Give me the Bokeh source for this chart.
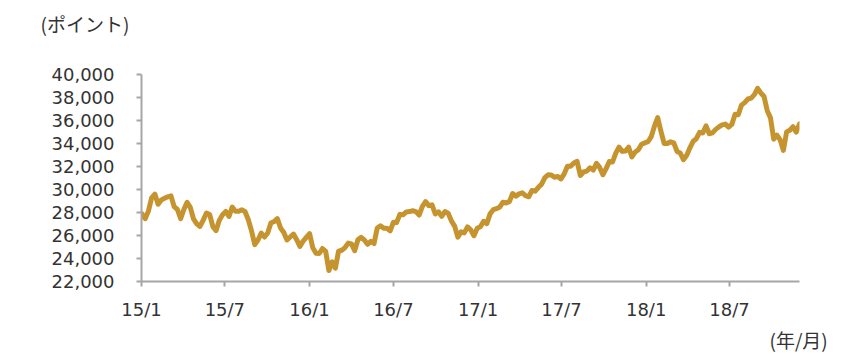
import pandas as pd
from bokeh.plotting import figure
from bokeh.models import Range1d, FixedTicker, NumeralTickFormatter, Title, ColumnDataSource
from bokeh.embed import file_html
from bokeh.resources import INLINE

# Weekly (Friday) index levels
v2015 = [27887, 27458, 28121, 29279, 29600, 28718, 29095, 29231, 29361, 29448,
         28503, 28261, 27458, 28260, 28879, 28442, 27437, 27011, 26789, 27324,
         27957, 27828, 26768, 26425, 27316, 27812, 28092, 27661, 28463, 28112,
         28115, 28236, 28067, 27366, 26392, 25202, 25610, 26219, 25864, 26221,
         27080, 27214, 27471, 26657, 26265, 25611, 25868, 26128, 25638, 25044,
         25519, 25838]
v2016 = [26160, 24934, 24455, 24435, 24871, 24617, 22950, 23709, 23154, 24646,
         24717, 24952, 25338, 25270, 24674, 25627, 25838, 25607, 25229, 25490,
         25302, 26653, 26843, 26636, 26626, 26398, 27145, 27126, 27837, 27803,
         28052, 28078, 28152, 28077, 27782, 28532, 28950, 28599, 28668, 27866,
         28061, 27674, 28077, 27942, 27274, 26819, 25860, 26316, 26231, 26747,
         26490, 25980, 26626]
v2017 = [26759, 27238, 27034, 27882, 28240, 28334, 28468, 28892, 28832, 28946,
         29649, 29421, 29621, 29707, 29461, 29365, 29918, 29859, 30188, 30465,
         31028, 31273, 31262, 31056, 31138, 30922, 31360, 32021, 32029, 32309,
         32450, 31214, 31525, 31596, 31892, 31688, 32273, 31922, 31284, 31815,
         32433, 32390, 33157, 33686, 33315, 33343, 33679, 32833, 33250, 33463,
         33940, 34057]
v2018 = [34154, 34592, 35512, 36250, 35067, 34005, 34010, 34142, 34047, 33307,
         33176, 32596, 32969, 33627, 34193, 34416, 34970, 34915, 35536, 34849,
         34925, 35227, 35444, 35622, 35690, 35423, 35658, 36541, 36496, 37337,
         37557, 37869, 37948, 38252, 38800, 38390, 38091, 36842, 36227, 34377,
         34734, 34316, 33400, 35012, 35158, 35457, 34981, 35716]
values = v2015 + v2016 + v2017 + v2018
dates = pd.date_range("2015-01-02", periods=len(values), freq="W-FRI")

tick_dates = ["2015-01-01", "2015-07-01", "2016-01-01", "2016-07-01",
              "2017-01-01", "2017-07-01", "2018-01-01", "2018-07-01"]
tick_labels = ["15/1", "15/7", "16/1", "16/7", "17/1", "17/7", "18/1", "18/7"]
y_ticks = list(range(22000, 40001, 2000))
unit_label = "(ポイント)"
time_label = "(年/月)"

def ms(d):
    return pd.Timestamp(d).value / 1e6

src = ColumnDataSource(dict(x=[ms(d) for d in dates], y=values))

x0 = ms("2015-01-01")
x1 = ms(dates[-1])

LEFT, RIGHT = 141, 56
p = figure(width=855, height=354, output_backend="svg", toolbar_location=None,
           x_range=Range1d(x0, x1), y_range=Range1d(22000, 40000),
           min_border_left=LEFT, min_border_right=RIGHT, min_border_top=74,
           min_border_bottom=72)
p.title = None
p.outline_line_color = None
p.xgrid.visible = False
p.ygrid.visible = False
p.background_fill_color = "white"
p.border_fill_color = "white"

p.line("x", "y", source=src, line_color="#C6942F", line_width=5,
       line_join="round", line_cap="round")

axis_color = "#A6A6A6"
for ax in (p.xaxis[0], p.yaxis[0]):
    ax.axis_line_color = axis_color
    ax.axis_line_width = 2
    ax.major_tick_line_color = axis_color
    ax.major_tick_line_width = 2
    ax.major_tick_in = 0
    ax.major_tick_out = 5
    ax.minor_tick_line_color = None
    ax.major_label_text_font = "DejaVu Sans"
    ax.major_label_text_font_size = "18px"
    ax.major_label_text_color = "#333333"

p.xaxis.ticker = FixedTicker(ticks=[ms(d) for d in tick_dates])
p.xaxis.major_label_overrides = {ms(d): lab for d, lab in zip(tick_dates, tick_labels)}
p.xaxis.major_label_standoff = 12

p.yaxis.ticker = FixedTicker(ticks=y_ticks)
p.yaxis.formatter = NumeralTickFormatter(format="0,0")
p.yaxis.major_label_standoff = 22

title_font = dict(text_font="Noto Sans CJK JP", text_font_size="19px",
                  text_font_style="normal", text_color="#333333")
# blank spacer next to the frame, then the unit label above it
p.add_layout(Title(text="\u3000", align="left", standoff=8,
                   text_font="Noto Sans CJK JP", text_font_size="18px"), "above")
p.add_layout(Title(text=unit_label, align="left", offset=40 - LEFT,
                   vertical_align="top", standoff=0, **title_font), "above")
p.add_layout(Title(text=time_label, align="left", offset=769 - LEFT,
                   vertical_align="bottom", standoff=3, **title_font), "below")

open("out.html", "w").write(file_html(p, INLINE))
